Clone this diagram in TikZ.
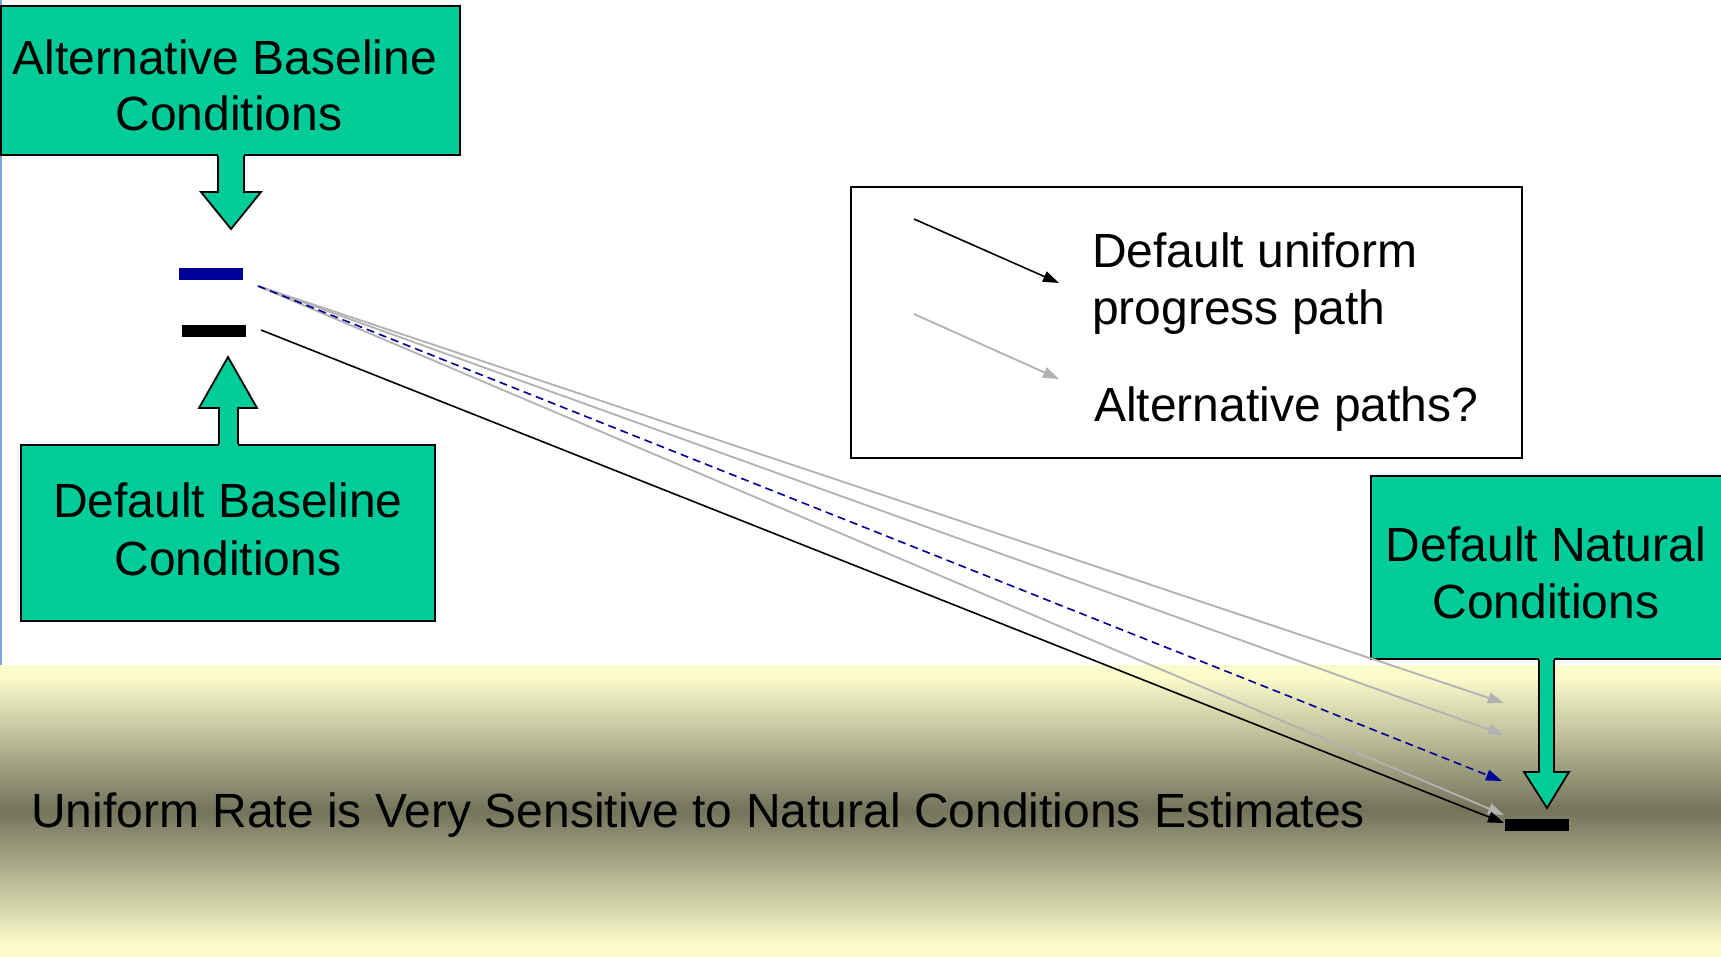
\documentclass[tikz,border=0pt]{standalone}
\usepackage{fontspec}
\setmainfont{Liberation Sans}
\usetikzlibrary{arrows.meta}
\definecolor{boxgreen}{HTML}{00CC99}
\definecolor{altgray}{HTML}{B2B2B2}
\definecolor{navy}{HTML}{000099}
\definecolor{bgl}{HTML}{FBFBCC}
\definecolor{bgd}{HTML}{73735C}
\definecolor{edgeblue}{HTML}{7EA6DA}
\pgfdeclareverticalshading{bandshade}{100bp}{color(0bp)=(bgl); color(27bp)=(bgl); color(50bp)=(bgd); color(73bp)=(bgl); color(100bp)=(bgl)}
\begin{document}
\begin{tikzpicture}[x=1pt,y=-1pt,
 greenbox/.style={draw=black,line width=1.8pt,fill=boxgreen,inner sep=0pt},
 boxtext/.style={anchor=base,inner sep=0pt,font=\fontsize{48}{57}\selectfont,align=center},
 blockfill/.style={fill=boxgreen},
 blockedge/.style={draw=black,line width=1.8pt,line join=miter},
 bar/.style={inner sep=0pt,minimum width=64pt,minimum height=12pt},
 tip/.style={-{Triangle[length=16pt,width=11pt]}},
 defpath/.style={draw=black,line width=1.6pt,tip},
 altpath/.style={draw=altgray,line width=1.8pt,tip},
 bluepath/.style={draw=navy,line width=1.6pt,dash pattern=on 8pt off 5pt,tip},
 legtext/.style={anchor=base west,inner sep=0pt,font=\fontsize{48}{56}\selectfont},
]
\useasboundingbox (0,0) rectangle (1721,956);
\fill[white] (0,0) rectangle (1721,956);
% background band
\shade[shading=bandshade] (0,665) rectangle (1721,956);
\draw[edgeblue,line width=1.5pt] (0.75,0) -- (0.75,665);

% legend
\node[draw=black,line width=1.6pt,fill=white,minimum width=671pt,minimum height=271pt,inner sep=0pt] (legend) at (1186.5,322.5) {};
\coordinate (l1s) at (914,219);
\coordinate (l1e) at (1059,283);
\coordinate (l2s) at (914,314);
\coordinate (l2e) at (1059,379);
\draw[defpath] (l1s) -- (l1e);
\draw[altpath] (l2s) -- (l2e);
\node[legtext] (lt1) at (1092,267) {Default uniform};
\node[legtext] (lt2) at (1092,324) {progress path};
\node[legtext] (lt3) at (1094,421) {Alternative paths?};

% boxes
\node[greenbox,minimum width=459pt,minimum height=149pt] (alt) at (230.5,80.5) {};
\node[boxtext] (alttext) at (225,74) {Alternative Baseline};
\node[boxtext] (alttext2) at (229,130) {Conditions};
\node[greenbox,minimum width=414pt,minimum height=176pt] (def) at (228,533) {};
\node[boxtext] (deftext) at (228,517) {Default Baseline};
\node[boxtext] (deftext2) at (228,575) {Conditions};
\node[greenbox,minimum width=354pt,minimum height=183pt] (nat) at (1548,567.5) {};
\node[boxtext] (nattext) at (1546,561) {Default Natural};
\node[boxtext] (nattext2) at (1546,618) {Conditions};

% block arrows
\fill[blockfill] (218,150) -- (218,192) -- (201,192) -- (231,229) -- (261,192) -- (244,192) -- (244,150) -- cycle;
\draw[blockedge] (218,155.9) -- (218,192) -- (201,192) -- (231,229) -- (261,192) -- (244,192) -- (244,155.9);
\fill[blockfill] (219,450) -- (219,408) -- (199,408) -- (228,357) -- (257,408) -- (238,408) -- (238,450) -- cycle;
\draw[blockedge] (219,444.1) -- (219,408) -- (199,408) -- (228,357) -- (257,408) -- (238,408) -- (238,444.1);
\fill[blockfill] (1539,654) -- (1539,772) -- (1524,772) -- (1547,808) -- (1569,772) -- (1554,772) -- (1554,654) -- cycle;
\draw[blockedge] (1539,659.9) -- (1539,772) -- (1524,772) -- (1547,808) -- (1569,772) -- (1554,772) -- (1554,659.9);

% bars
\node[bar,fill=navy] (bluebar) at (211,274) {};
\node[bar,fill=black] (blackbar) at (214,331) {};
\node[bar,fill=black] (endbar) at (1537,825) {};

% paths
\coordinate (bs) at (258,286);
\coordinate (ks) at (261,330);
\coordinate (e1) at (1504,703);
\coordinate (e2) at (1504,735);
\coordinate (e3) at (1502,781);
\coordinate (e4) at (1504,815);
\coordinate (e5) at (1504,823);
\draw[altpath] (bs) -- (e1);
\draw[altpath] (bs) -- (e2);
\draw[altpath] (bs) -- (e4);
\draw[bluepath] (bs) -- (e3);
\draw[defpath] (ks) -- (e5);

% bottom caption
\node[legtext] (caption) at (31,827) {Uniform Rate is Very Sensitive to Natural Conditions Estimates};
\end{tikzpicture}
\end{document}
